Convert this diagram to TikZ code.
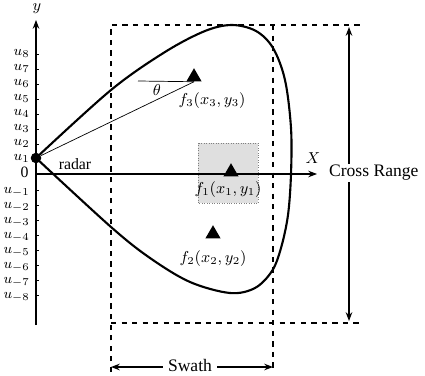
\documentclass[tikz,border=0pt]{standalone}
\usepackage{fontspec}
\setmainfont{Liberation Serif}
\usetikzlibrary{positioning, arrows.meta, shapes.geometric}

\tikzset{
	objetivo/.style={regular polygon, regular polygon sides=3, fill=black, inner sep=0pt, minimum size=10pt},
	blanco/.style={fill=white, inner sep=1pt},
	guia/.style={dashed, line width=0.6pt},
	marca/.style={left, inner sep=0pt, font=\footnotesize}
}

\begin{document}
\begin{tikzpicture}[x=0.02cm, y=-0.02cm, font=\small]
	\useasboundingbox (0,0) rectangle (425,375);

	% Zona de barrido
	\fill[gray!25] (198,143) rectangle (258,203);
	\draw[densely dotted, gray] (198,143) rectangle (258,203);
	\draw[guia] (111,372) -- (111,25) -- (360,25);
	\draw[guia] (111,323) -- (360,323);
	\draw[guia] (273,25) -- (273,372);

	% Ejes
	\coordinate (ybot) at (36,325);
	\coordinate (ytop) at (36,20);
	\coordinate (O) at (36,174);
	\coordinate (xend) at (317,174);
	\draw[-{Stealth[length=5pt]}, line width=0.6pt] (ybot) -- (ytop);
	\draw[-{Stealth[length=5pt]}, line width=0.6pt] (O) -- (xend);
	\node (ylab) at (37,9) {$y$};
	\node (xlab) at (313,158) {$X$};
	\node[marca] (cero) at (29,172) {\small 0};

	% Marcas del eje y
	\foreach \n in {1,...,8} {
		\draw (36,174-\n*15) -- ++(3,0);
		\node[marca] at (30,173-\n*15) {$u_{\n}$};
		\draw (36,175+\n*15) -- ++(3,0);
		\node[marca] at (30,177+\n*15) {$u_{-\n}$};
	}

	% Cobertura del radar
	\draw[line width=1.2pt] plot[smooth, tension=0.55] coordinates {
		(36,158) (111,90) (165,52) (205,31) (232,25) (256,31) (273,48)
		(285,80) (291,128) (291,174) (288,215) (281,248) (272,271)
		(255,288) (230,293) (190,282) (150,258) (111,227) (36,158)};
	\node[circle, fill=black, inner sep=0pt, minimum size=6pt] (radar) at (36,158) {};
	\node (radarlab) at (75,164) {radar};

	% Objetivos
	\node[objetivo] (f3) at (194,77) {};
	\node[objetivo] (f1) at (231,172) {};
	\node[objetivo] (f2) at (213,234) {};
	\node (f3lab) at (212,101) {$f_3(x_3,y_3)$};
	\node (f1lab) at (228,190) {$f_1(x_1,y_1)$};
	\node (f2lab) at (213,259) {$f_2(x_2,y_2)$};
	\coordinate (thl) at (138,81);
	\draw[line width=0.4pt] (radar) -- (f3.south);
	\draw[line width=0.4pt] (thl) -- (f3.south);
	\node (theta) at (157,90) {$\theta$};

	% Cotas
	\coordinate (crtop) at (349,27);
	\coordinate (crbot) at (349,321);
	\draw[{Stealth[length=5pt]}-{Stealth[length=5pt]}, line width=0.6pt] (crtop) -- (crbot);
	\node[right, blanco] (cross) at (327,173) {\normalsize Cross Range};
	\coordinate (swl) at (111,367);
	\coordinate (swr) at (273,367);
	\draw[{Stealth[length=5pt]}-{Stealth[length=5pt]}, line width=0.6pt] (swl) -- (swr);
	\node[blanco, inner sep=3pt] (swath) at (190,365) {\normalsize Swath};
\end{tikzpicture}
\end{document}
